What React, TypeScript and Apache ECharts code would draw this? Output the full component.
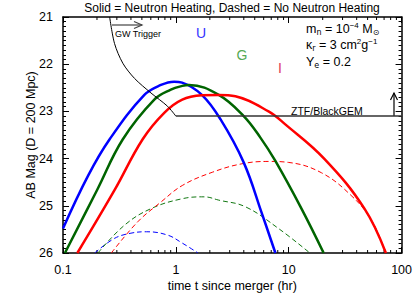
import React, { useEffect, useRef } from "react";
import * as echarts from "echarts";

// ---- tick labels ----
const xTickLabels = ["0.1", "1", "10", "100"];
const yTickValues = [21, 22, 23, 24, 25, 26];
const xMinorTicks = [0.2, 0.3, 0.4, 0.5, 0.6, 0.7, 0.8, 0.9, 2, 3, 4, 5, 6, 7, 8, 9, 20, 30, 40, 50, 60, 70, 80, 90];

// ---- solid curves (neutron heating) ----
const uSolidT = [0.1, 0.167, 0.259, 0.526, 0.738, 0.966, 1.135, 1.7, 2.49, 3.99, 5.78, 7.62];
const uSolidMag = [25.48, 24.36, 23.59, 22.65, 22.44, 22.37, 22.39, 22.65, 23.17, 24.08, 25.16, 26.0];

const gSolidT = [0.104, 0.2, 0.339, 0.644, 0.903, 1.14, 1.31, 2.4, 3.99, 5.59, 7.57, 12.97, 20.4];
const gSolidMag = [26.0, 24.67, 23.59, 22.75, 22.54, 22.46, 22.44, 22.65, 23.1, 23.55, 24.04, 25.06, 26.0];

const iSolidT = [0.134, 0.286, 0.508, 0.789, 1.14, 1.71, 2.4, 3.37, 6.62, 9.27, 20.8, 46.9, 72.6];
const iSolidMag = [26.0, 24.67, 23.59, 23.03, 22.75, 22.66, 22.65, 22.68, 23.0, 23.27, 24.01, 25.06, 26.0];

// ---- dashed curves (no neutron heating) ----
const uDashT = [0.191, 0.286, 0.4, 0.55, 0.843, 1.14, 1.57];
const uDashMag = [26.0, 25.69, 25.58, 25.55, 25.62, 25.79, 26.0];

const gDashT = [0.204, 0.351, 0.602, 1.14, 1.78, 2.4, 4.13, 8.11, 15.4];
const gDashMag = [26.0, 25.41, 25.06, 24.85, 24.81, 24.88, 25.02, 25.48, 26.0];

const iDashT = [0.268, 0.459, 0.738, 1.14, 2.1, 3.85, 6.62, 9.91, 19.5, 35.7, 53.6, 70.3, 72.9];
const iDashMag = [26.0, 25.34, 24.92, 24.57, 24.29, 24.11, 24.06, 24.08, 24.3, 24.78, 25.29, 25.9, 26.0];

// ---- GW trigger curve and ZTF/BlackGEM limit ----
const gwT = [0.259, 0.286, 0.339, 0.43, 0.602, 0.843, 1.0];
const gwMag = [21.0, 21.56, 21.98, 22.3, 22.61, 22.89, 23.1];
const ztfT = [1.0, 100];
const ztfMag = [23.1, 23.1];

const FONT = "Liberation Sans";

const pairs = (t: number[], m: number[]) => t.map((v, i) => [v, m[i]]);

export default function App() {
  const ref = useRef<HTMLDivElement>(null);
  useEffect(() => {
    if (!ref.current) return;
    const chart = echarts.init(ref.current, undefined, { renderer: "svg" });

    const solid = (name: string, t: number[], m: number[], color: string) => ({
      type: "line",
      name,
      data: pairs(t, m),
      showSymbol: false,
      smooth: 0.4,
      lineStyle: { color, width: 2.5 },
      z: 3,
    });
    const dashed = (name: string, t: number[], m: number[], color: string) => ({
      type: "line",
      name,
      data: pairs(t, m),
      showSymbol: false,
      smooth: 0.4,
      lineStyle: { color, width: 1, type: [5, 3] },
      z: 2,
    });

    const baseAxisLine = { show: true, lineStyle: { color: "#000", width: 1.5 } };
    const richBase = {
      a: { fontSize: 12.5, fontFamily: FONT, lineHeight: 15, fill: "#000" },
      sub: { fontSize: 8, fontFamily: "DejaVu Sans", lineHeight: 8, verticalAlign: "bottom", fill: "#000" },
      sup: { fontSize: 8, fontFamily: FONT, lineHeight: 8, verticalAlign: "top", fill: "#000" },
    };

    chart.setOption({
      animation: false,
      grid: { left: 63, top: 17, width: 341, height: 238, containLabel: false },
      xAxis: [
        {
          type: "log",
          logBase: 10,
          min: 0.1,
          max: 100,
          position: "bottom",
          axisLine: baseAxisLine,
          axisTick: { show: true, inside: true, length: 6, lineStyle: { color: "#000" } },
          axisLabel: {
            margin: 10,
            fontSize: 12.5,
            fontFamily: FONT,
            color: "#000",
            showMinLabel: true,
            showMaxLabel: true,
            formatter: (v: number) => xTickLabels[Math.round(Math.log10(v)) + 1] ?? "",
          },
          splitLine: { show: false },
          name: "time t since merger (hr)",
          nameLocation: "middle",
          nameGap: 26,
          nameMoveOverlap: false,
          nameTextStyle: { fontSize: 12.5, fontFamily: FONT, color: "#000" },
        },
        {
          type: "log",
          logBase: 10,
          min: 0.1,
          max: 100,
          position: "top",
          axisLine: baseAxisLine,
          axisTick: { show: true, inside: true, length: 6, lineStyle: { color: "#000" } },
          axisLabel: { show: false },
          splitLine: { show: false },
        },
      ],
      yAxis: [
        {
          type: "value",
          inverse: true,
          min: yTickValues[0],
          max: yTickValues[yTickValues.length - 1],
          interval: 1,
          position: "left",
          axisLine: baseAxisLine,
          axisTick: { show: true, inside: true, length: 6, lineStyle: { color: "#000" } },
          minorTick: { show: true, splitNumber: 10, length: 3, lineStyle: { color: "#000" } },
          axisLabel: { margin: 10, fontSize: 12.5, fontFamily: FONT, color: "#000" },
          splitLine: { show: false },
          name: "AB Mag (D = 200 Mpc)",
          nameLocation: "middle",
          nameGap: 26,
          nameMoveOverlap: false,
          nameTextStyle: { fontSize: 12.5, fontFamily: FONT, color: "#000" },
        },
        {
          type: "value",
          inverse: true,
          min: yTickValues[0],
          max: yTickValues[yTickValues.length - 1],
          interval: 1,
          position: "right",
          axisLine: baseAxisLine,
          axisTick: { show: true, inside: true, length: 6, lineStyle: { color: "#000" } },
          minorTick: { show: true, splitNumber: 10, length: 3, lineStyle: { color: "#000" } },
          axisLabel: { show: false },
          splitLine: { show: false },
        },
      ],
      series: [
        dashed("U no heating", uDashT, uDashMag, "#0000ff"),
        dashed("G no heating", gDashT, gDashMag, "#117711"),
        dashed("I no heating", iDashT, iDashMag, "#ff0000"),
        solid("U", uSolidT, uSolidMag, "#0000ff"),
        solid("G", gSolidT, gSolidMag, "#006400"),
        solid("I", iSolidT, iSolidMag, "#ff0000"),
        {
          type: "line",
          name: "GW Trigger",
          data: pairs(gwT, gwMag),
          showSymbol: false,
          smooth: 0.3,
          lineStyle: { color: "#000", width: 1 },
          z: 4,
        },
        {
          type: "line",
          name: "ZTF/BlackGEM",
          data: pairs(ztfT, ztfMag),
          showSymbol: false,
          lineStyle: { color: "#333", width: 1.5 },
          z: 4,
        },
        {
          type: "custom",
          name: "minor x ticks",
          coordinateSystem: "cartesian2d",
          data: xMinorTicks.map((v) => [v, 26]),
          silent: true,
          clip: false,
          renderItem: (_p: any, api: any) => {
            const v = api.value(0);
            const b = api.coord([v, 26]);
            const t = api.coord([v, 21]);
            const st = { stroke: "#000", lineWidth: 1 };
            return {
              type: "group",
              children: [
                { type: "line", shape: { x1: b[0], y1: b[1], x2: b[0], y2: b[1] - 3 }, style: st },
                { type: "line", shape: { x1: t[0], y1: t[1], x2: t[0], y2: t[1] + 3 }, style: st },
              ],
            };
          },
        },
      ],
      graphic: [
        {
          type: "text",
          x: 232,
          y: 8,
          style: {
            text: "Solid = Neutron Heating, Dashed = No Neutron Heating",
            fontSize: 12,
            fontFamily: FONT,
            fill: "#000",
            textAlign: "center",
            textVerticalAlign: "middle",
          },
        },
        // GW trigger arrow
        { type: "line", shape: { x1: 112, y1: 25, x2: 142, y2: 25 }, style: { stroke: "#444", lineWidth: 1.2 } },
        { type: "polyline", shape: { points: [[134, 21.5], [142, 25], [134, 28.5]] }, style: { stroke: "#444", lineWidth: 1.2, fill: "none" } },
        {
          type: "text",
          x: 115,
          y: 33.5,
          style: { text: "GW Trigger", fontSize: 9, fontFamily: FONT, fill: "#000", textVerticalAlign: "middle" },
        },
        // ZTF arrow
        { type: "line", shape: { x1: 394, y1: 116, x2: 394, y2: 93 }, style: { stroke: "#000", lineWidth: 1.2 } },
        { type: "polyline", shape: { points: [[390.5, 100], [394, 93], [397.5, 100]] }, style: { stroke: "#000", lineWidth: 1.2, fill: "none" } },
        {
          type: "text",
          x: 291,
          y: 110.5,
          style: { text: "ZTF/BlackGEM", fontSize: 10.5, fontFamily: FONT, fill: "#000", textVerticalAlign: "middle" },
        },
        // band labels
        { type: "text", x: 201, y: 33, style: { text: "U", fontSize: 14, fontFamily: FONT, fill: "#3333ff", textAlign: "center", textVerticalAlign: "middle" } },
        { type: "text", x: 242, y: 55, style: { text: "G", fontSize: 14, fontFamily: FONT, fill: "#55aa55", textAlign: "center", textVerticalAlign: "middle" } },
        { type: "text", x: 280, y: 68, style: { text: "I", fontSize: 14, fontFamily: FONT, fill: "#e0405a", textAlign: "center", textVerticalAlign: "middle" } },
        // parameter legend
        {
          type: "text",
          x: 306,
          y: 21,
          style: { text: "{a|m}{sub|n}{a| = 10}{sup|−4}{a| M}{sub|⊙}", fill: "#000", rich: richBase },
        },
        {
          type: "text",
          x: 306,
          y: 37,
          style: { text: "{a|κ}{sub|r}{a| = 3 cm}{sup|2}{a|g}{sup|−1}", fill: "#000", rich: richBase },
        },
        {
          type: "text",
          x: 306,
          y: 54,
          style: { text: "{a|Y}{sub|e}{a| = 0.2}", fill: "#000", rich: richBase },
        },
      ],
    });
    return () => chart.dispose();
  }, []);
  return (
    <div
      ref={ref}
      style={{ position: "fixed", left: 0, top: 0, width: 415, height: 297, background: "#fff" }}
    />
  );
}
